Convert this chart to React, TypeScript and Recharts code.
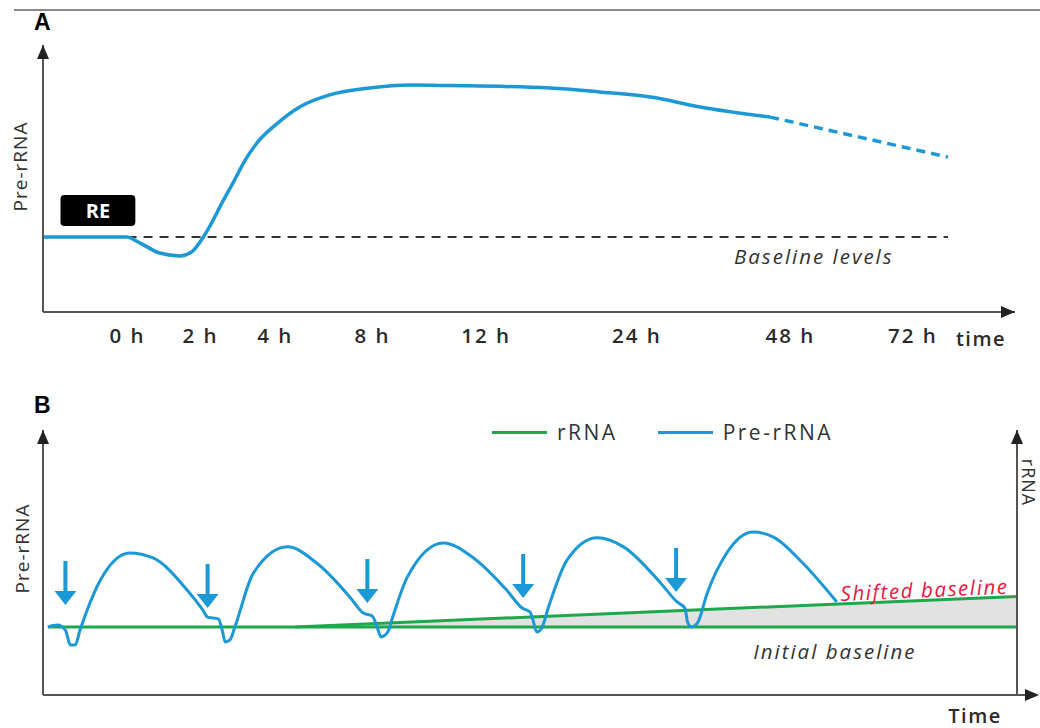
import React from 'react'
import { ComposedChart, Line, Area, Scatter, XAxis, YAxis, ReferenceArea, ReferenceDot, Legend } from 'recharts'

// panel A – pre-rRNA response after RE (x = position along the time axis, y = relative level)
const preA = [
  { t: 0, v: 28.1 }, { t: 8.6, v: 28.1 }, { t: 10, v: 25.8 }, { t: 12, v: 22.1 }, { t: 14.1, v: 21 },
  { t: 15.3, v: 22.5 }, { t: 16.5, v: 28.1 }, { t: 17.4, v: 33.7 }, { t: 18.4, v: 40.8 }, { t: 19.6, v: 48.7 },
  { t: 20.8, v: 56.9 }, { t: 22.1, v: 63.7 }, { t: 23.9, v: 70 }, { t: 26.4, v: 76.8 }, { t: 29.5, v: 81.3 },
  { t: 33.6, v: 83.9 }, { t: 37.8, v: 85 }, { t: 41.9, v: 84.8 }, { t: 52.2, v: 83.9 }, { t: 57.3, v: 82.4 },
  { t: 62.5, v: 80.5 }, { t: 67.6, v: 76.8 }, { t: 74.8, v: 73 },
]
const preAProjected = [{ t: 74.8, v: 73 }, { t: 84, v: 65.5 }, { t: 93.1, v: 58 }]
const baselineA = [{ t: 8.7, v: 28.1 }, { t: 93.1, v: 28.1 }]
const tickPosA = [8.7, 16.2, 23.9, 33.9, 45.6, 61.1, 76.9, 89.5]
const tickLabelsA = ['0 h', '2 h', '4 h', '8 h', '12 h', '24 h', '48 h', '72 h']

// panel B – repeated stimulation
const preB = [
  { t: 0.5, v: 25.7 }, { t: 1.5, v: 26.4 }, { t: 2.3, v: 24.5 }, { t: 2.8, v: 18.9 }, { t: 3.3, v: 18.9 },
  { t: 3.8, v: 24.5 }, { t: 5.9, v: 43.4 }, { t: 8.9, v: 53.6 }, { t: 11.3, v: 51.7 }, { t: 14.8, v: 39.6 },
  { t: 16.4, v: 32.1 }, { t: 16.9, v: 29.4 }, { t: 18, v: 28.7 }, { t: 18.4, v: 24.5 }, { t: 18.7, v: 20 },
  { t: 19.2, v: 20.8 }, { t: 19.7, v: 25.7 }, { t: 21.6, v: 46 }, { t: 25.1, v: 55.9 }, { t: 28.1, v: 49.8 },
  { t: 31.5, v: 37 }, { t: 32.9, v: 30.9 }, { t: 33.8, v: 29.8 }, { t: 34.3, v: 25.7 }, { t: 34.7, v: 21.9 },
  { t: 35.4, v: 23.8 }, { t: 35.9, v: 29.4 }, { t: 37.4, v: 44.5 }, { t: 41.1, v: 57.4 }, { t: 44.2, v: 51.7 },
  { t: 47.6, v: 39.6 }, { t: 49.2, v: 32.8 }, { t: 50, v: 31.3 }, { t: 50.3, v: 28.3 }, { t: 50.7, v: 23.8 },
  { t: 51.2, v: 25.3 }, { t: 51.9, v: 33.2 }, { t: 53.8, v: 50.9 }, { t: 56.9, v: 59.3 }, { t: 59.6, v: 55.9 },
  { t: 63.4, v: 42.3 }, { t: 65.1, v: 35.1 }, { t: 65.9, v: 32.8 }, { t: 66.2, v: 27.2 }, { t: 66.6, v: 25.7 },
  { t: 67.2, v: 27.2 }, { t: 68.2, v: 38.5 }, { t: 70.2, v: 53.6 }, { t: 72.9, v: 61.5 }, { t: 75, v: 59.6 },
  { t: 78, v: 49.8 }, { t: 81.5, v: 35.1 },
]
const initialBaseline = [{ t: 0.5, v: 25.7 }, { t: 100, v: 25.7 }]
const shiftedBaseline = [{ t: 25.9, v: 25.7 }, { t: 100, v: 37.2 }]
const shiftBand = [{ t: 25.9, range: [25.7, 25.7] }, { t: 100, range: [25.7, 37.2] }]
const stimuli = [{ t: 2.3, v: 34 }, { t: 16.9, v: 32.8 }, { t: 33.3, v: 34.7 }, { t: 49.3, v: 36.6 }, { t: 65, v: 38.9 }]
const legendItems = [{ name: 'rRNA', color: '#1ca84b' }, { name: 'Pre-rRNA', color: '#1b98d6' }]

const BLUE = '#1b98d6'
const GREEN = '#1ca84b'
const AXIS = '#555'
const FONT = '"Open Sans", sans-serif'

const axisTitle = (text: string, dx: number, dy: number, angle: number, size = 19) => (props: any) => {
  const vb = props.viewBox || {}
  const x = vb.x + vb.width / 2 + dx
  const y = vb.y + vb.height / 2 + dy
  return (
    <text x={x} y={y} transform={`rotate(${angle} ${x} ${y})`} textAnchor="middle" dominantBaseline="central"
      fontFamily={FONT} fontSize={size} fill="#333" letterSpacing={1}>{text}</text>
  )
}

const cornerTitle = (text: string, fromRight: number, down: number) => (props: any) => {
  const vb = props.viewBox || {}
  return (
    <text x={vb.x + vb.width - fromRight} y={vb.y + down} textAnchor="middle" dominantBaseline="central"
      fontFamily={FONT} fontSize={20} fontWeight={600} fill="#2a2a2a" letterSpacing={1.5}>{text}</text>
  )
}

const DownArrow = (p: any) => {
  const { cx, cy } = p
  return (
    <g fill={BLUE}>
      <rect x={cx - 2} y={cy - 44} width={4} height={32} />
      <path d={`M${cx - 11},${cy - 14} L${cx + 11},${cy - 14} L${cx},${cy} Z`} />
    </g>
  )
}

const LegendBox = () => (
  <div style={{ display: 'flex', alignItems: 'center', fontFamily: FONT, fontSize: 21, color: '#333', letterSpacing: 2.5 }}>
    {legendItems.map((it, i) => (
      <div key={it.name} style={{ display: 'flex', alignItems: 'center', marginRight: i === 0 ? 40 : 0 }}>
        <div style={{ width: 55, height: 3, background: it.color, marginRight: 10 }} />
        <span>{it.name}</span>
      </div>
    ))}
  </div>
)

const note = (text: string, color: string, angle = 0, spacing = 1.6) => ({
  value: text, position: 'center' as const, fill: color, fontSize: 20.5, fontStyle: 'italic', fontFamily: FONT,
  fontWeight: 500, letterSpacing: spacing, angle,
})

export default function App() {
  return (
    <div style={{ position: 'relative', width: 1040, height: 728, background: '#fff', overflow: 'hidden' }}>
      <style>{'body{margin:0}'}</style>
      <svg width={0} height={0} style={{ position: 'absolute' }}>
        <defs>
          <marker id="ax-arrow" viewBox="0 0 14 12" refX={14} refY={6} markerWidth={14} markerHeight={12}
            markerUnits="userSpaceOnUse" orient="auto-start-reverse">
            <path d="M0,0 L14,6 L0,12 Z" fill="#222" />
          </marker>
          <marker id="ax-arrow-long" viewBox="0 0 22 12" refX={0} refY={6} markerWidth={22} markerHeight={12}
            markerUnits="userSpaceOnUse" orient="auto">
            <path d="M0,5 L10,5 L10,7 L0,7 Z" fill={AXIS} />
            <path d="M8,0 L22,6 L8,12 Z" fill="#222" />
          </marker>
        </defs>
      </svg>

      <div style={{ position: 'absolute', left: 14, top: 9, width: 1026, height: 2, background: '#888' }} />
      <div style={{ position: 'absolute', left: 34, top: 9, fontFamily: 'Liberation Sans', fontWeight: 700, fontSize: 23 }}>A</div>
      <div style={{ position: 'absolute', left: 34, top: 392, fontFamily: 'Liberation Sans', fontWeight: 700, fontSize: 23 }}>B</div>

      <div style={{ position: 'absolute', left: 0, top: 0 }}>
        <ComposedChart width={1040} height={360} margin={{ top: 45, right: 25, bottom: 0, left: 3 }}>
          <XAxis type="number" dataKey="t" domain={[0, 100]} ticks={tickPosA} interval={0} height={48}
            tickFormatter={(v: number) => tickLabelsA[tickPosA.indexOf(v)] ?? ''}
            tickLine={false} tickSize={0} tickMargin={16}
            tick={{ fontSize: 20.5, fontWeight: 600, fill: '#2a2a2a', fontFamily: FONT, letterSpacing: 2 }}
            axisLine={{ stroke: AXIS, strokeWidth: 2, markerEnd: 'url(#ax-arrow)' }}
            label={cornerTitle('time', 34, 26)} />
          <YAxis type="number" dataKey="v" domain={[0, 100]} width={40} tick={false} tickLine={false}
            axisLine={{ stroke: AXIS, strokeWidth: 2, markerStart: 'url(#ax-arrow)' }}
            label={axisTitle('Pre-rRNA', -3, -12, -90)} />
          <ReferenceArea x1={1.8} x2={9.5} y1={32.2} y2={43.8} fill="#000" fillOpacity={1} stroke="none" radius={4}
            label={{ value: 'RE', position: 'center', fill: '#fff', fontWeight: 700, fontSize: 20, fontFamily: FONT }} />
          <Line data={baselineA} dataKey="v" stroke="#333" strokeWidth={2} strokeDasharray="9 7" dot={false}
            isAnimationActive={false} type="linear" />
          <Line data={preA} dataKey="v" stroke={BLUE} strokeWidth={3.5} dot={false} isAnimationActive={false} type="monotone" />
          <Line data={preAProjected} dataKey="v" stroke={BLUE} strokeWidth={3.5} strokeDasharray="9 6" dot={false}
            isAnimationActive={false} type="monotone" />
          <ReferenceDot x={79.3} y={20.6} r={0} fill="none" stroke="none" label={note('Baseline levels', '#333', 0, 2)} />
        </ComposedChart>
      </div>

      <div style={{ position: 'absolute', left: 0, top: 360 }}>
        <ComposedChart width={1040} height={368} margin={{ top: 70, right: 3, bottom: 0, left: 3 }}>
          <XAxis type="number" dataKey="t" domain={[0, 100]} height={33} tick={false} tickLine={false}
            axisLine={{ stroke: AXIS, strokeWidth: 2, markerEnd: 'url(#ax-arrow-long)' }}
            label={cornerTitle('Time', 42, 20)} />
          <YAxis type="number" dataKey="v" domain={[0, 100]} width={40} tick={false} tickLine={false}
            axisLine={{ stroke: AXIS, strokeWidth: 2, markerStart: 'url(#ax-arrow)' }}
            label={axisTitle('Pre-rRNA', -1, -14, -90)} />
          <YAxis yAxisId="r" orientation="right" type="number" domain={[0, 100]} width={20} tick={false} tickLine={false}
            axisLine={{ stroke: AXIS, strokeWidth: 2, markerStart: 'url(#ax-arrow)' }}
            label={axisTitle('rRNA', 2, -80, 90, 18)} />
          <Legend verticalAlign="middle" align="center" content={<LegendBox />}
            wrapperStyle={{ position: 'absolute', top: 58, left: 492, width: 'auto' }} />
          <Area data={shiftBand} dataKey="range" stroke="none" fill="#e2e2e2" fillOpacity={1} isAnimationActive={false}
            type="linear" legendType="none" />
          <Line data={initialBaseline} dataKey="v" stroke={GREEN} strokeWidth={3} dot={false} isAnimationActive={false} type="linear" />
          <Line data={shiftedBaseline} dataKey="v" stroke={GREEN} strokeWidth={3} dot={false} isAnimationActive={false} type="linear" />
          <Line data={preB} dataKey="v" stroke={BLUE} strokeWidth={3} dot={false} isAnimationActive={false} type="monotone" />
          <Scatter data={stimuli} dataKey="v" shape={<DownArrow />} isAnimationActive={false} legendType="none" />
          <ReferenceDot x={90.5} y={39.6} r={0} fill="none" stroke="none" label={note('Shifted baseline', '#e8173f', -2.5)} />
          <ReferenceDot x={81.3} y={16.2} r={0} fill="none" stroke="none" label={note('Initial baseline', '#333', 0, 2)} />
        </ComposedChart>
      </div>
    </div>
  )
}
